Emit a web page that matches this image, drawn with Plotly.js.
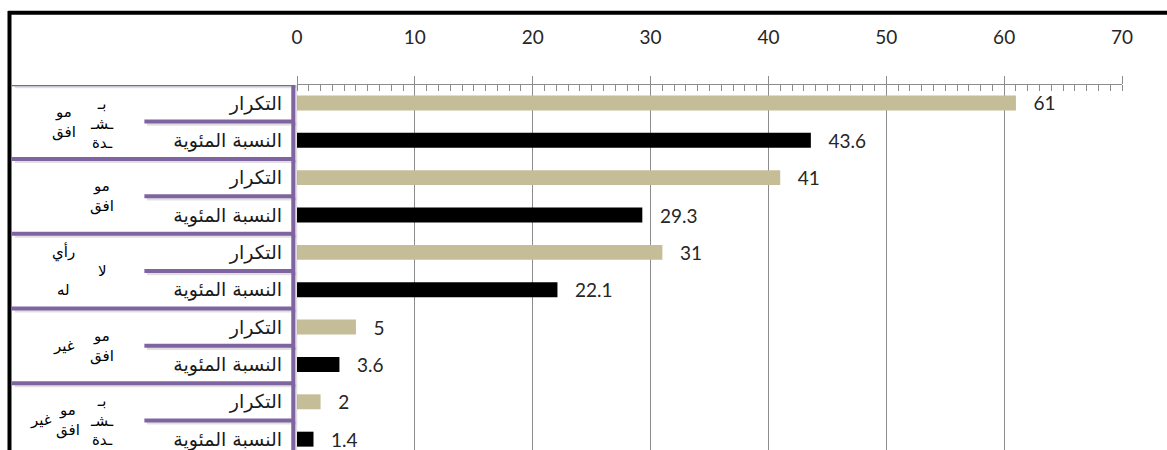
<!DOCTYPE html>
<html>
<head>
<meta charset="utf-8">
<script src="https://cdn.plot.ly/plotly-3.0.1.min.js"></script>
<style>
html,body{margin:0;padding:0;background:#fff;}
#chart{width:1167px;height:450px;}
</style>
</head>
<body>
<div id="chart"></div>
<script>
// ---- data ----
var groups = ['موافق بشدة', 'موافق', 'لا رأي له', 'غير موافق', 'غير موافق بشدة'];
var measures = ['التكرار', 'النسبة المئوية'];
var freq = [61, 41, 31, 5, 2];
var pct = [43.6, 29.3, 22.1, 3.6, 1.4];
var xTicks = [0, 10, 20, 30, 40, 50, 60, 70];

// stacked (vertical) word columns for each group label, as drawn in the reference
var groupWords = [
  [['مو', 'افق'], ['بـ', 'ـشـ', 'ـدة']],
  [['مو', 'افق']],
  [['رأي'], ['لا'], ['له']],
  [['غير'], ['مو', 'افق']],
  [['غير'], ['مو', 'افق'], ['بـ', 'ـشـ', 'ـدة']]
];

// ---- build categories ----
var cats = [], tickText = [];
groups.forEach(function (g) {
  measures.forEach(function (m) { cats.push(g + ' | ' + m); tickText.push(m); });
});
var yFreq = groups.map(function (g) { return g + ' | ' + measures[0]; });
var yPct = groups.map(function (g) { return g + ' | ' + measures[1]; });

var labelFont = {family: 'Lato, "Open Sans", sans-serif', size: 19, color: '#262626'};

var traces = [
  {type: 'bar', orientation: 'h', x: freq, y: yFreq, name: measures[0],
   marker: {color: '#C4BD97'}, width: 0.4,
   text: freq.map(function (v) { return '\u00A0\u00A0\u00A0' + v; }), textposition: 'outside',
   constraintext: 'none', textfont: labelFont, cliponaxis: false, hoverinfo: 'x'},
  {type: 'bar', orientation: 'h', x: pct, y: yPct, name: measures[1],
   marker: {color: '#000000'}, width: 0.4,
   text: pct.map(function (v) { return '\u00A0\u00A0\u00A0' + v; }), textposition: 'outside',
   constraintext: 'none', textfont: labelFont, cliponaxis: false, hoverinfo: 'x'}
];

// ---- frame shapes ----
var purple = '#8064A2';
var shapes = [];
// outer black chart border (top and left)
shapes.push({type: 'line', xref: 'paper', yref: 'paper', x0: -0.35, x1: 1.1, y0: 1.198, y1: 1.198,
  line: {color: '#000', width: 4}, layer: 'above'});
shapes.push({type: 'line', xref: 'paper', yref: 'paper', x0: -0.3485, x1: -0.3485, y0: 1.203, y1: -0.1,
  line: {color: '#000', width: 4}, layer: 'above'});
// purple table lines
for (var g = 0; g < groups.length; g++) {
  var yTop = 2 * g - 0.5, yMid = 2 * g + 0.5;
  // shadows
  shapes.push({type: 'line', xref: 'paper', yref: 'y', x0: -0.342, x1: -0.001, y0: yTop + 0.07, y1: yTop + 0.07,
    line: {color: 'rgba(0,0,0,0.12)', width: 3}});
  shapes.push({type: 'line', xref: 'paper', yref: 'y', x0: -0.182, x1: -0.001, y0: yMid + 0.07, y1: yMid + 0.07,
    line: {color: 'rgba(0,0,0,0.12)', width: 3}});
  shapes.push({type: 'line', xref: 'paper', yref: 'y', x0: -0.346, x1: -0.0035, y0: yTop, y1: yTop,
    line: {color: purple, width: 4}});
  shapes.push({type: 'line', xref: 'paper', yref: 'y', x0: -0.185, x1: -0.0035, y0: yMid, y1: yMid,
    line: {color: purple, width: 4}});
}
shapes.push({type: 'line', xref: 'paper', yref: 'y', x0: -0.0015, x1: -0.0015, y0: -0.55, y1: 10,
  line: {color: 'rgba(0,0,0,0.12)', width: 3}});
shapes.push({type: 'line', xref: 'paper', yref: 'y', x0: -0.0045, x1: -0.0045, y0: -0.55, y1: 10,
  line: {color: purple, width: 4}});

// ---- group label annotations (stacked letters) ----
var annotations = [];
var colX = {
  0: [-0.283, -0.236],
  1: [-0.236],
  2: [-0.283, -0.236, -0.283],
  3: [-0.283, -0.236],
  4: [-0.31, -0.277, -0.236]
};
var colY = {
  0: [0.5, 0.55],
  1: [0.5],
  2: [0.0, 0.5, 1.0],
  3: [0.5, 0.5],
  4: [0.5, 0.5, 0.5]
};
groupWords.forEach(function (words, gi) {
  words.forEach(function (parts, wi) {
    annotations.push({
      xref: 'paper', yref: 'y', x: colX[gi][wi], y: 2 * gi + colY[gi][wi],
      text: parts.join('<br>'), showarrow: false, xanchor: 'center', yanchor: 'middle',
      font: {family: '"DejaVu Sans", sans-serif', size: 15, color: '#000'}
    });
  });
});

var layout = {
  width: 1167, height: 450,
  margin: {l: 297, r: 45, t: 85, b: 0, pad: 0},
  paper_bgcolor: '#fff', plot_bgcolor: '#fff',
  showlegend: false, barmode: 'overlay',
  font: {family: 'Lato, "Open Sans", sans-serif'},
  xaxis: {
    side: 'top', range: [0, 70], tickvals: xTicks, ticktext: xTicks.map(String),
    showgrid: true, gridcolor: '#8c8c8c', gridwidth: 1,
    showline: true, linecolor: '#8c8c8c', linewidth: 1,
    ticks: 'outside', ticklen: 8, tickcolor: '#8c8c8c', tickwidth: 1,
    minor: {dtick: 1, ticks: 'inside', ticklen: 6, tickcolor: '#8c8c8c', showgrid: false},
    ticklabelstandoff: 24,
    tickfont: {family: 'Lato, "Open Sans", sans-serif', size: 19, color: '#262626'},
    zeroline: false, fixedrange: true
  },
  yaxis: {
    type: 'category', categoryorder: 'array', categoryarray: cats,
    tickvals: cats, ticktext: tickText,
    range: [9.29, -0.48], showgrid: false, zeroline: false, showline: false,
    ticks: '', ticklabelstandoff: 14,
    tickfont: {family: '"DejaVu Sans", sans-serif', size: 19, color: '#1a1a1a'},
    fixedrange: true
  },
  shapes: shapes,
  annotations: annotations
};

Plotly.newPlot('chart', traces, layout, {displayModeBar: false, staticPlot: true});
</script>
</body>
</html>
